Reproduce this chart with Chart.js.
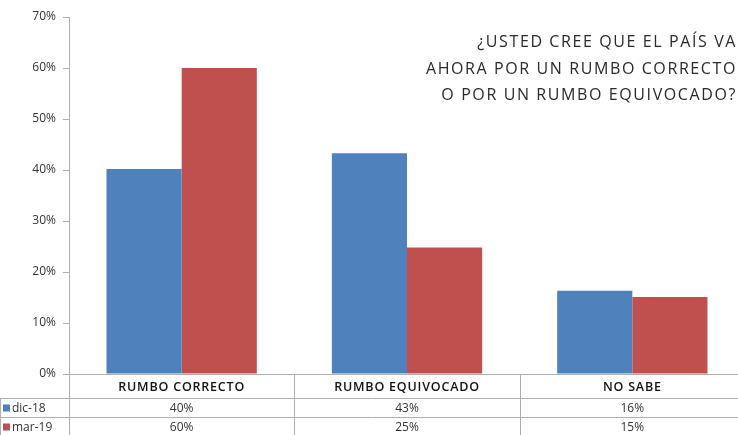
<!DOCTYPE html>
<html><head><meta charset="utf-8">
<script src="https://cdn.jsdelivr.net/npm/chart.js@4.4.0/dist/chart.umd.min.js"></script>
<style>
html,body{margin:0;padding:0;background:#fff;overflow:hidden;width:738px;height:435px;}
#wrap{position:relative;width:745px;height:435px;}
#title{position:absolute;top:28px;width:420px;text-align:right;font-family:"Open Sans",sans-serif;font-size:16px;line-height:26.5px;letter-spacing:1.6px;color:#2a2a2a;font-weight:400;right:8px;}
</style></head>
<body>
<div id="wrap">
<canvas id="c" width="745" height="435"></canvas>
<div id="title">¿USTED CREE QUE EL PAÍS VA<br>AHORA POR UN RUMBO CORRECTO<br>O POR UN RUMBO EQUIVOCADO?</div>
</div>
<script>
const categories = ["RUMBO CORRECTO", "RUMBO EQUIVOCADO", "NO SABE"];
const seriesNames = ["dic-18", "mar-19"];
const dic18 = [40.2, 43.3, 16.3];
const mar19 = [60, 24.8, 15.1];
const tableDic18 = ["40%", "43%", "16%"];
const tableMar19 = ["60%", "25%", "15%"];
const yTicks = [0, 10, 20, 30, 40, 50, 60, 70];

const colors = ["#4F81BD", "#C0504D"];
const lineColor = "#b0b0b0";

const tablePlugin = {
  id: 'dataTable',
  afterDraw(chart) {
    const ctx = chart.ctx;
    const x = chart.scales.x;
    const area = chart.chartArea;
    const n = categories.length;
    const step = (area.right - area.left) / n;
    const bounds = [];
    for (let i = 0; i <= n; i++) bounds.push(area.left + i * step);
    const y0 = area.bottom, y1 = y0 + 24, y2 = y1 + 19, y3 = y2 + 19;
    ctx.save();
    ctx.strokeStyle = lineColor;
    ctx.lineWidth = 1;
    ctx.beginPath();
    bounds.forEach(b => { ctx.moveTo(Math.round(b) + 0.5, y0); ctx.lineTo(Math.round(b) + 0.5, y3); });
    ctx.moveTo(0.5, y1); ctx.lineTo(0.5, y3);
    [y1, y2].forEach(yy => { ctx.moveTo(0, yy + 0.5); ctx.lineTo(area.right, yy + 0.5); });
    ctx.moveTo(0, y3 - 0.5); ctx.lineTo(area.right, y3 - 0.5);
    ctx.stroke();
    ctx.fillStyle = "#111";
    ctx.textAlign = "center";
    ctx.textBaseline = "middle";
    ctx.font = '600 12.5px "Open Sans"';
    ctx.letterSpacing = "0.8px";
    categories.forEach((c, i) => {
      ctx.fillText(c, x.getPixelForValue(i), (y0 + y1) / 2 + 1);
    });
    ctx.letterSpacing = "0px";
    ctx.font = '12px "Open Sans"';
    ctx.fillStyle = "#333";
    const rows = [[tableDic18, y1, y2], [tableMar19, y2, y3]];
    rows.forEach((r, ri) => {
      const cy = (r[1] + r[2]) / 2 + 1;
      r[0].forEach((v, i) => ctx.fillText(v, x.getPixelForValue(i), cy));
      ctx.fillStyle = colors[ri];
      ctx.fillRect(3, cy - 4, 7, 7);
      ctx.fillStyle = "#333";
      ctx.textAlign = "left";
      ctx.fillText(seriesNames[ri], 12, cy);
      ctx.textAlign = "center";
    });
    ctx.restore();
  }
};

new Chart(document.getElementById('c'), {
  type: 'bar',
  data: {
    labels: categories,
    datasets: [
      { label: seriesNames[0], data: dic18, backgroundColor: colors[0], categoryPercentage: 0.667, barPercentage: 1 },
      { label: seriesNames[1], data: mar19, backgroundColor: colors[1], categoryPercentage: 0.667, barPercentage: 1 }
    ]
  },
  options: {
    responsive: false,
    animation: false,
    layout: { padding: { top: 17, bottom: 53, left: 0, right: 0 } },
    plugins: { legend: { display: false }, tooltip: { enabled: false } },
    scales: {
      x: {
        ticks: { display: false },
        grid: { display: false },
        border: { display: true, color: lineColor }
      },
      y: {
        min: 0, max: 70,
        afterBuildTicks(s) { s.ticks = yTicks.map(v => ({ value: v })); },
        afterFit(s) { s.width = 69; },
        ticks: { callback: v => v + '%', color: '#333', font: { family: 'Open Sans', size: 12 }, padding: 7 },
        grid: { drawOnChartArea: false, tickLength: 6, color: lineColor },
        border: { color: lineColor }
      }
    }
  },
  plugins: [tablePlugin]
});
</script>
</body></html>
